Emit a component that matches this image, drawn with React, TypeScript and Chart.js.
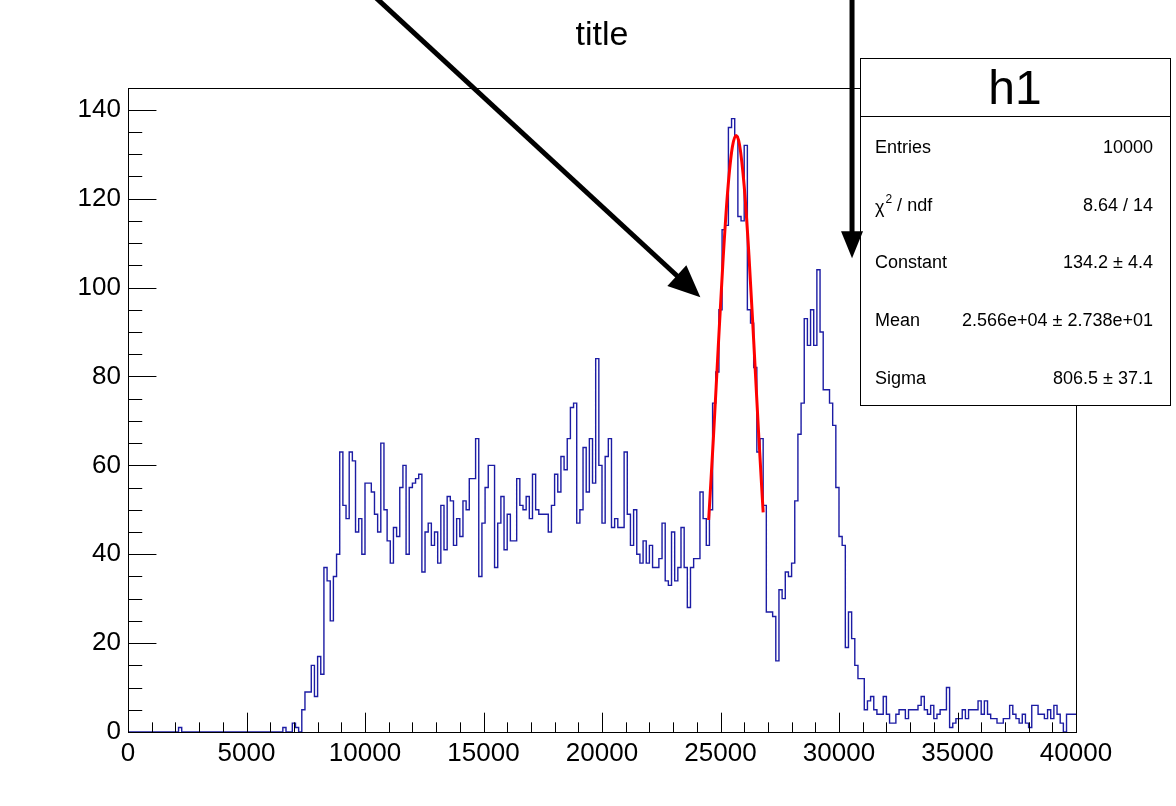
import React, { useEffect, useRef } from "react";
import { Chart, registerables } from "chart.js";

Chart.register(...registerables);

// ---------- data ----------
const X_MIN = 0;
const X_MAX = 40000;
const Y_MAX = 144.9;

// bin contents of h1 (300 bins, 0 .. 40000)
const counts: number[] = [
  0, 0, 0, 0, 0, 0, 0, 0, 0, 0, 0, 0, 0, 0, 0, 0, 0, 1, 0, 0,
  0, 0, 0, 0, 0, 0, 0, 0, 0, 0, 0, 0, 0, 0, 0, 0, 0, 0, 0, 0,
  0, 0, 0, 0, 0, 0, 0, 0, 0, 0, 1, 0, 0, 2, 1, 0, 5, 9, 9, 15,
  8, 17, 13, 37, 34, 25, 35, 40, 63, 51, 48, 63, 61, 45, 48, 40, 56, 56, 54, 49,
  45, 65, 50, 43, 38, 46, 44, 55, 60, 40, 55, 56, 57, 58, 36, 45, 47, 42, 45, 38,
  51, 41, 53, 52, 42, 48, 44, 52, 50, 57, 57, 66, 35, 47, 55, 60, 60, 37, 47, 53,
  41, 49, 43, 43, 57, 51, 50, 53, 48, 58, 50, 49, 49, 49, 45, 51, 58, 54, 62, 59,
  66, 73, 74, 47, 50, 64, 54, 66, 56, 84, 60, 47, 62, 66, 46, 48, 46, 46, 63, 49,
  42, 50, 40, 38, 43, 38, 42, 37, 37, 39, 47, 34, 33, 45, 34, 37, 46, 37, 28, 37,
  39, 39, 54, 48, 42, 50, 74, 81, 95, 113, 114, 136, 138, 134, 116, 115, 132, 95, 92, 82,
  63, 66, 51, 27, 27, 26, 16, 32, 30, 36, 35, 38, 52, 67, 74, 93, 87, 95, 87, 104,
  90, 77, 77, 74, 69, 55, 44, 42, 19, 27, 21, 15, 12, 12, 5, 7, 8, 5, 4, 4,
  8, 4, 2, 2, 4, 5, 5, 3, 5, 5, 5, 6, 8, 5, 4, 6, 3, 4, 5, 5,
  10, 1, 2, 3, 3, 5, 3, 5, 5, 5, 7, 4, 7, 4, 3, 3, 2, 2, 3, 3,
  6, 4, 3, 2, 4, 2, 1, 6, 6, 4, 4, 3, 5, 3, 6, 4, 2, 0, 4, 4,
];

// red gaussian fit curve
const fitX: number[] = [24500, 24700, 24900, 25100, 25300, 25500, 25660, 25800, 26000, 26200, 26400, 26600, 26800];
const fitY: number[] = [47.7, 66.1, 86.1, 105.5, 121.5, 131.6, 134.2, 132.2, 122.8, 107.3, 88.1, 68.0, 49.4];

const xTickValues: number[] = [0, 5000, 10000, 15000, 20000, 25000, 30000, 35000, 40000];
const yTickValues: number[] = [0, 20, 40, 60, 80, 100, 120, 140];
const X_MINOR_STEP = 1000;
const Y_MINOR_STEP = 5;

const titleText = "title";
const statsTitle = "h1";
const statsLabels: string[] = ["Entries", "χ2 / ndf", "Constant", "Mean", "Sigma"];
const statsValues: string[] = ["10000", "8.64 / 14", "134.2 ± 4.4", "2.566e+04 ± 2.738e+01", "806.5 ± 37.1"];

// arrows in data coordinates: [x1, y1, x2, y2]
const arrow1: number[] = [10300, 166, 24150, 97.8];
const arrow2: number[] = [30550, 166, 30550, 106.6];

// ---------- styles ----------
const FONT = "'Liberation Sans', Arial, Helvetica, sans-serif";
const HIST_COLOR = "#1c1ca4";
const FIT_COLOR = "#ff0000";
const STATS_BOX = { left: 860, top: 58, right: 1170, bottom: 405 };

function drawArrow(ctx: CanvasRenderingContext2D, x1: number, y1: number, x2: number, y2: number, headLen: number, headHalf: number) {
  const a = Math.atan2(y2 - y1, x2 - x1);
  const bx = x2 - headLen * Math.cos(a);
  const by = y2 - headLen * Math.sin(a);
  ctx.strokeStyle = "#000";
  ctx.fillStyle = "#000";
  ctx.lineWidth = 5;
  ctx.lineCap = "butt";
  ctx.beginPath();
  ctx.moveTo(x1, y1);
  ctx.lineTo(bx + 2 * Math.cos(a), by + 2 * Math.sin(a));
  ctx.stroke();
  ctx.beginPath();
  ctx.moveTo(x2, y2);
  ctx.lineTo(bx - headHalf * Math.sin(a), by + headHalf * Math.cos(a));
  ctx.lineTo(bx + headHalf * Math.sin(a), by - headHalf * Math.cos(a));
  ctx.closePath();
  ctx.fill();
}

const rootPlugin = {
  id: "rootDecor",
  afterDraw(chart: any) {
    const { ctx, chartArea: ca, scales } = chart;
    const x = scales.x;
    const y = scales.y;
    ctx.save();

    // frame
    ctx.strokeStyle = "#000";
    ctx.lineWidth = 1;
    ctx.strokeRect(Math.round(ca.left) + 0.5, Math.round(ca.top) + 0.5, Math.round(ca.right - ca.left), Math.round(ca.bottom - ca.top));

    // x ticks (inside)
    const xMajor = (ca.bottom - ca.top) * 0.03;
    ctx.beginPath();
    for (let v = X_MIN; v <= X_MAX + 0.1; v += X_MINOR_STEP) {
      const px = Math.round(x.getPixelForValue(v)) + 0.5;
      const isMajor = xTickValues.includes(v);
      const len = isMajor ? xMajor : xMajor / 2;
      ctx.moveTo(px, ca.bottom);
      ctx.lineTo(px, ca.bottom - len);
    }
    // y ticks (inside)
    const yMajor = (ca.right - ca.left) * 0.03;
    for (let v = 0; v <= Y_MAX; v += Y_MINOR_STEP) {
      const py = Math.round(y.getPixelForValue(v)) + 0.5;
      const isMajor = yTickValues.includes(v);
      const len = isMajor ? yMajor : yMajor / 2;
      ctx.moveTo(ca.left, py);
      ctx.lineTo(ca.left + len, py);
    }
    ctx.stroke();

    // title
    ctx.fillStyle = "#000";
    ctx.font = `34px ${FONT}`;
    ctx.textAlign = "center";
    ctx.textBaseline = "middle";
    ctx.fillText(titleText, (ca.left + ca.right) / 2, 36);

    // stats box
    const b = STATS_BOX;
    const rowH = (b.bottom - b.top) / (statsLabels.length + 1);
    ctx.fillStyle = "#fff";
    ctx.fillRect(b.left, b.top, b.right - b.left, b.bottom - b.top);
    ctx.strokeStyle = "#000";
    ctx.lineWidth = 1;
    ctx.strokeRect(b.left + 0.5, b.top + 0.5, b.right - b.left, b.bottom - b.top);
    ctx.beginPath();
    ctx.moveTo(b.left, Math.round(b.top + rowH) + 0.5);
    ctx.lineTo(b.right, Math.round(b.top + rowH) + 0.5);
    ctx.stroke();

    ctx.fillStyle = "#000";
    ctx.font = `48px ${FONT}`;
    ctx.textAlign = "center";
    ctx.textBaseline = "middle";
    ctx.fillText(statsTitle, (b.left + b.right) / 2, b.top + rowH / 2 + 4);

    ctx.font = `18px ${FONT}`;
    for (let i = 0; i < statsLabels.length; i++) {
      const cy = b.top + rowH * (i + 1.5) + 3;
      const label = statsLabels[i];
      ctx.textAlign = "left";
      if (label.startsWith("χ2")) {
        ctx.font = `18px ${FONT}`;
        ctx.fillText("χ", b.left + 15, cy + 2);
        const wChi = ctx.measureText("χ").width;
        ctx.font = `12px ${FONT}`;
        ctx.fillText("2", b.left + 15 + wChi + 1, cy - 6);
        const w2 = ctx.measureText("2").width;
        ctx.font = `18px ${FONT}`;
        ctx.fillText(label.slice(2), b.left + 15 + wChi + 1 + w2, cy);
      } else {
        ctx.fillText(label, b.left + 15, cy);
      }
      ctx.textAlign = "right";
      ctx.fillText(statsValues[i], b.right - 17, cy);
    }

    // arrows
    const a1 = arrow1.map((v, k) => (k % 2 === 0 ? x.getPixelForValue(v) : y.getPixelForValue(v)));
    const a2 = arrow2.map((v, k) => (k % 2 === 0 ? x.getPixelForValue(v) : y.getPixelForValue(v)));
    drawArrow(ctx, a1[0], a1[1], a1[2], a1[3], 32, 14);
    drawArrow(ctx, a2[0], a2[1], a2[2], a2[3], 27, 11);

    ctx.restore();
  },
};

function buildConfig(): any {
  const binWidth = (X_MAX - X_MIN) / counts.length;
  const histPoints = counts.map((c, i) => ({ x: X_MIN + i * binWidth, y: c }));
  histPoints.push({ x: X_MAX, y: counts[counts.length - 1] });
  const fitPoints = fitX.map((v, i) => ({ x: v, y: fitY[i] }));

  return {
    type: "line",
    data: {
      datasets: [
        {
          label: "h1",
          data: histPoints,
          borderColor: HIST_COLOR,
          borderWidth: 1.4,
          stepped: "after",
          pointRadius: 0,
          fill: false,
          order: 2,
        },
        {
          label: "gaus",
          data: fitPoints,
          borderColor: FIT_COLOR,
          borderWidth: 3,
          pointRadius: 0,
          cubicInterpolationMode: "monotone",
          fill: false,
          order: 1,
        },
      ],
    },
    options: {
      animation: false,
      responsive: false,
      maintainAspectRatio: false,
      layout: { padding: { left: 0, top: 88, right: 100, bottom: 0 } },
      plugins: {
        legend: { display: false },
        tooltip: { enabled: false },
        title: { display: false },
      },
      scales: {
        x: {
          type: "linear",
          min: X_MIN,
          max: X_MAX,
          grid: { display: false, drawTicks: false },
          border: { display: false },
          afterBuildTicks: (s: any) => {
            s.ticks = xTickValues.map((v) => ({ value: v }));
          },
          afterFit: (s: any) => {
            s.height = 74;
          },
          ticks: {
            padding: 6,
            autoSkip: false,
            maxRotation: 0,
            color: "#000",
            font: { family: FONT, size: 26 },
            callback: (v: any) => String(v),
          },
        },
        y: {
          type: "linear",
          min: 0,
          max: Y_MAX,
          grid: { display: false, drawTicks: false },
          border: { display: false },
          afterBuildTicks: (s: any) => {
            s.ticks = yTickValues.map((v) => ({ value: v }));
          },
          afterFit: (s: any) => {
            s.width = 128;
          },
          ticks: {
            padding: 7,
            autoSkip: false,
            color: "#000",
            font: { family: FONT, size: 26 },
            callback: (v: any) => String(v),
          },
        },
      },
    },
    plugins: [rootPlugin],
  };
}

export default function App() {
  const ref = useRef<HTMLCanvasElement | null>(null);
  useEffect(() => {
    if (!ref.current) return;
    const chart = new Chart(ref.current, buildConfig());
    return () => {
      chart.destroy();
    };
  }, []);
  return (
    <div style={{ position: "absolute", left: 0, top: 0, width: 1176, height: 806, background: "#fff" }}>
      <canvas ref={ref} width={1176} height={806} style={{ display: "block", width: 1176, height: 806 }} />
    </div>
  );
}
